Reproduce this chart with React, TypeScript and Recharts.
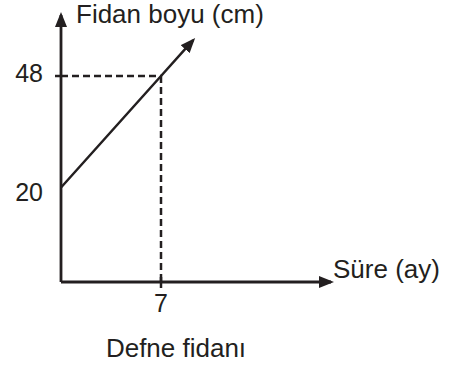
import React from 'react';
import { LineChart, Line, XAxis, YAxis, ReferenceLine, Customized } from 'recharts';

// Data
const months = [0, 7, 9.25];
const heights = [20, 48, 57];
const xTicks = [7];
const yTicks = [20, 48];
const markX = 7;
const markY = 48;
const yTitle = 'Fidan boyu (cm)';
const xTitle = 'Süre (ay)';
const caption = 'Defne fidanı';

const data = months.map((m, i) => ({ ay: m, boy: heights[i] }));

const INK = '#231f20';
const FONT = '"Liberation Sans", Arial, Helvetica, sans-serif';

const Defs = () => (
  <defs>
    <marker id="arrowHead" viewBox="0 0 15 12" refX="12" refY="6" markerWidth="15" markerHeight="12"
      markerUnits="userSpaceOnUse" orient="auto-start-reverse">
      <path d="M0,0 L15,6 L0,12 Z" fill={INK} />
    </marker>
  </defs>
);

const Titles = () => (
  <g fontFamily={FONT} fill={INK} fontSize={26}>
    <text x={76} y={23}>{yTitle}</text>
    <text x={333} y={278}>{xTitle}</text>
    <text x={176} y={357} textAnchor="middle">{caption}</text>
  </g>
);

const YTick = (props: any) => {
  const { x, y, payload } = props;
  const v = payload.value;
  const dy = v === 48 ? -3 : 4;
  return (
    <g>
      {v === 48 && <line x1={x - 6} y1={y} x2={x} y2={y} stroke={INK} strokeWidth={2.5} />}
      <text x={x - 18} y={y + dy} textAnchor="end" dominantBaseline="central" fontFamily={FONT} fontSize={25} fill={INK}>
        {v}
      </text>
    </g>
  );
};

const XTick = (props: any) => {
  const { x, y, payload } = props;
  return (
    <g>
      <line x1={x} y1={y - 5} x2={x} y2={y + 6} stroke={INK} strokeWidth={2.5} />
      <text x={x} y={y + 30} textAnchor="middle" fontFamily={FONT} fontSize={25} fill={INK}>
        {payload.value}
      </text>
    </g>
  );
};

export default function App() {
  return (
    <div style={{ position: 'absolute', left: 0, top: 0, width: 452, height: 372, background: '#fff' }}>
      <LineChart width={452} height={372} data={data} margin={{ top: 15, right: 121, bottom: 89, left: 60 }}>
        <Customized component={Defs} />
        <XAxis
          dataKey="ay"
          type="number"
          domain={[0, 18.9]}
          ticks={xTicks}
          height={1}
          tickSize={0}
          tickMargin={0}
          tickLine={false}
          tick={<XTick />}
          axisLine={{ stroke: INK, strokeWidth: 2.8, markerEnd: 'url(#arrowHead)' }}
          allowDataOverflow
        />
        <YAxis
          type="number"
          domain={[-3.73, 63.32]}
          ticks={yTicks}
          width={1}
          tickSize={0}
          tickMargin={0}
          tickLine={false}
          tick={<YTick />}
          axisLine={{ stroke: INK, strokeWidth: 2.8, markerStart: 'url(#arrowHead)' }}
          allowDataOverflow
        />
        <ReferenceLine
          segment={[{ x: 0, y: markY }, { x: markX, y: markY }]}
          stroke={INK}
          strokeWidth={2.5}
          strokeDasharray="7 4"
          ifOverflow="visible"
        />
        <ReferenceLine
          segment={[{ x: markX, y: markY }, { x: markX, y: -3.73 }]}
          stroke={INK}
          strokeWidth={2.5}
          strokeDasharray="7 4"
          ifOverflow="visible"
        />
        <Line
          dataKey="boy"
          type="linear"
          stroke={INK}
          strokeWidth={2.5}
          dot={false}
          activeDot={false}
          markerEnd="url(#arrowHead)"
          isAnimationActive={false}
        />
        <Customized component={Titles} />
      </LineChart>
    </div>
  );
}
